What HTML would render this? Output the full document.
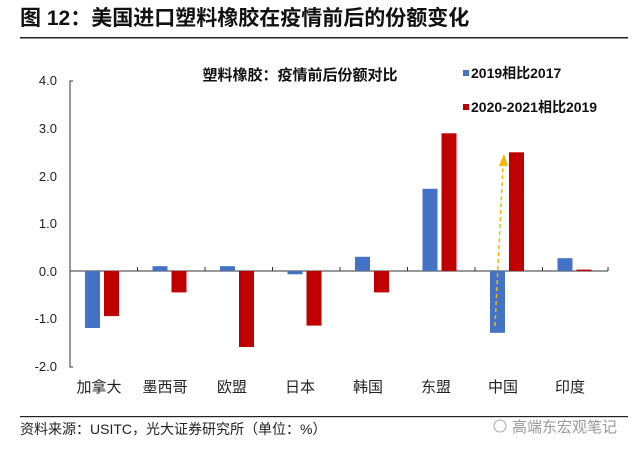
<!DOCTYPE html>
<html><head><meta charset="utf-8"><style>
body{margin:0;background:#fff;width:640px;height:453px;overflow:hidden;font-family:"Liberation Sans","Noto Sans CJK SC",sans-serif}
</style></head><body>
<svg width="640" height="453" xmlns="http://www.w3.org/2000/svg" style="font-family:'Liberation Sans','Noto Sans CJK SC',sans-serif">
<text x="20" y="25" font-size="21" font-weight="bold" fill="#111">图 12：美国进口塑料橡胶在疫情前后的份额变化</text>
<rect x="20" y="37" width="608" height="1.5" fill="#222"/>
<text x="300" y="80" font-size="15" font-weight="bold" text-anchor="middle" fill="#111">塑料橡胶：疫情前后份额对比</text>
<rect x="463" y="70" width="6" height="6" fill="#4472C4"/>
<text x="471" y="78" font-size="14" font-weight="bold" fill="#111">2019相比2017</text>
<rect x="463" y="104" width="6" height="6" fill="#C00000"/>
<text x="471" y="112" font-size="14" font-weight="bold" fill="#111">2020-2021相比2019</text>
<g font-size="13" fill="#222" text-anchor="end">
<text x="57" y="85">4.0</text><text x="57" y="133">3.0</text><text x="57" y="181">2.0</text>
<text x="57" y="228">1.0</text><text x="57" y="276">0.0</text><text x="57" y="323">-1.0</text><text x="57" y="371">-2.0</text>
</g>
<path d="M73 81H70V367H73" stroke="#333" fill="none"/>
<path d="M70 271H608" stroke="#333"/>
<g stroke="#333">
<path d="M137.5 271v-4M205 271v-4M272.5 271v-4M340 271v-4M407.5 271v-4M475 271v-4M542.5 271v-4M608 271v-4"/>
</g>
<g fill="#4472C4">
<rect x="85" y="271" width="15" height="57"/>
<rect x="152.5" y="266.2" width="15" height="4.8"/>
<rect x="220" y="266.2" width="15" height="4.8"/>
<rect x="287.5" y="271" width="15" height="3.3"/>
<rect x="355" y="256.8" width="15" height="14.2"/>
<rect x="422.5" y="188.8" width="15" height="82.2"/>
<rect x="490" y="271" width="15" height="61.8"/>
<rect x="557.5" y="258.2" width="15" height="12.8"/>
</g>
<g fill="#C00000">
<rect x="104" y="271" width="15" height="45.1"/>
<rect x="171.5" y="271" width="15" height="21.4"/>
<rect x="239" y="271" width="15" height="76"/>
<rect x="306.5" y="271" width="15" height="54.6"/>
<rect x="374" y="271" width="15" height="21.4"/>
<rect x="441.5" y="133.3" width="15" height="137.7"/>
<rect x="509" y="152.3" width="15" height="118.7"/>
<rect x="576.5" y="269.6" width="15" height="1.4"/>
</g>
<path d="M495 326L503 166" stroke="#F5B800" stroke-width="1.5" stroke-dasharray="4,3" fill="none"/>
<path d="M499 166L504 154L508 166Z" fill="#F5B800"/>
<g font-size="15" fill="#222" text-anchor="middle">
<text x="99" y="392">加拿大</text><text x="165" y="392">墨西哥</text><text x="232" y="392">欧盟</text>
<text x="300" y="392">日本</text><text x="368" y="392">韩国</text><text x="436" y="392">东盟</text>
<text x="503" y="392">中国</text><text x="570" y="392">印度</text>
</g>
<rect x="20" y="416" width="608" height="1.2" fill="#222"/>
<text x="20" y="434" font-size="14" fill="#222">资料来源：USITC，光大证券研究所（单位：%）</text>
<text x="512" y="432" font-size="15" fill="#999">高端东宏观笔记</text>
<circle cx="500" cy="426" r="6" fill="none" stroke="#aaa"/>
</svg>
</body></html>
